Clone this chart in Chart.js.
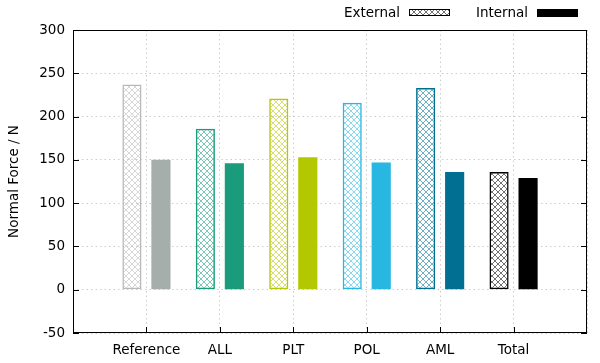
<!DOCTYPE html>
<html>
<head>
<meta charset="utf-8">
<script src="https://cdn.jsdelivr.net/npm/chart.js@4"></script>
<style>
  html, body { margin: 0; padding: 0; background: #fff; }
  #wrap { width: 600px; height: 363px; }
</style>
</head>
<body>
<div id="wrap"><canvas id="forceChart" width="600" height="363"></canvas></div>
<script>
const categories = ["Reference", "ALL", "PLT", "POL", "AML", "Total"]
const externalForce = [237, 186, 221, 216, 233, 136]
const internalForce = [150, 146, 153, 147, 136, 129]
const externalColors = ["#b9b9b9", "#1a9b7b", "#b4c800", "#27b7e1", "#006f91", "#000000"]
const internalColors = ["#a6aeab", "#1a9b7b", "#b4c800", "#27b7e1", "#006f91", "#000000"]
const yTicks = { min: -50, max: 300, step: 50 }

// cross hatch fill like gnuplot's pattern
function hatch(color) {
  const c = document.createElement("canvas")
  c.width = 6
  c.height = 6
  const g = c.getContext("2d")
  g.strokeStyle = color
  g.globalAlpha = 0.7
  g.lineWidth = 0.8
  g.beginPath()
  g.moveTo(0, 0); g.lineTo(6, 6)
  g.moveTo(6, 0); g.lineTo(0, 6)
  g.stroke()
  return g.createPattern(c, "repeat")
}

const pad = (arr) => [null, ...arr, null]

const frame = {
  id: "frame",
  afterDraw(chart) {
    const { ctx, chartArea: a, scales } = chart
    ctx.save()
    ctx.strokeStyle = "#000"
    ctx.lineWidth = 1
    ctx.strokeRect(a.left + 0.5, a.top + 0.5, a.right - a.left - 1, a.bottom - a.top - 1)
    ctx.beginPath()
    scales.y.ticks.forEach((t) => {
      const y = Math.round(scales.y.getPixelForValue(t.value)) + 0.5
      ctx.moveTo(a.left, y); ctx.lineTo(a.left + 6, y)
      ctx.moveTo(a.right, y); ctx.lineTo(a.right - 6, y)
    })
    categories.forEach((_, i) => {
      const x = Math.round(scales.x.getPixelForValue(i + 1)) + 0.5
      ctx.moveTo(x, a.bottom); ctx.lineTo(x, a.bottom - 6)
    })
    ctx.stroke()

    // legend: text then sample, gnuplot style
    ctx.font = "13.5px 'DejaVu Sans'"
    ctx.fillStyle = "#000"
    ctx.textBaseline = "middle"
    ctx.textAlign = "right"
    ctx.fillText("External", 400, 13)
    ctx.fillText("Internal", 528, 13)
    ctx.fillStyle = hatch("#000")
    ctx.fillRect(409, 9, 41, 7)
    ctx.strokeRect(409.5, 9.5, 40, 6)
    ctx.fillStyle = "#000"
    ctx.fillRect(537, 9, 41, 8)
    ctx.restore()
  },
}

Chart.defaults.font.family = "'DejaVu Sans', sans-serif"
Chart.defaults.font.size = 13.5
Chart.defaults.color = "#000"

const gridOpts = { color: "#cccccc", lineWidth: 1, drawTicks: false, offset: false }

new Chart(document.getElementById("forceChart"), {
  type: "bar",
  data: {
    labels: ["", ...categories, ""],
    datasets: [
      {
        label: "External",
        data: pad(externalForce),
        backgroundColor: pad(externalColors.map(hatch)),
        borderColor: pad(externalColors),
        borderWidth: 1.5,
        borderSkipped: false,
      },
      {
        label: "Internal",
        data: pad(internalForce),
        backgroundColor: pad(internalColors),
        borderWidth: 0,
      },
    ],
  },
  options: {
    responsive: false,
    animation: false,
    layout: { padding: { top: 30, right: 13, left: 0, bottom: 0 } },
    categoryPercentage: 0.79,
    barPercentage: 0.66,
    plugins: { legend: { display: false }, tooltip: { enabled: false } },
    scales: {
      x: {
        offset: false,
        grid: gridOpts,
        border: { display: false, dash: [1.5, 3] },
        ticks: { padding: 9, autoSkip: false, maxRotation: 0 },
        afterFit: (s) => { s.height = 30 },
      },
      y: {
        min: yTicks.min,
        max: yTicks.max,
        grid: gridOpts,
        border: { display: false, dash: [1.5, 3] },
        ticks: { stepSize: yTicks.step, padding: 8 },
        title: { display: true, text: "Normal Force / N", padding: { top: 6, bottom: 0 } },
        afterFit: (s) => { s.width = 73 },
      },
    },
  },
  plugins: [frame],
})
</script>
</body>
</html>
